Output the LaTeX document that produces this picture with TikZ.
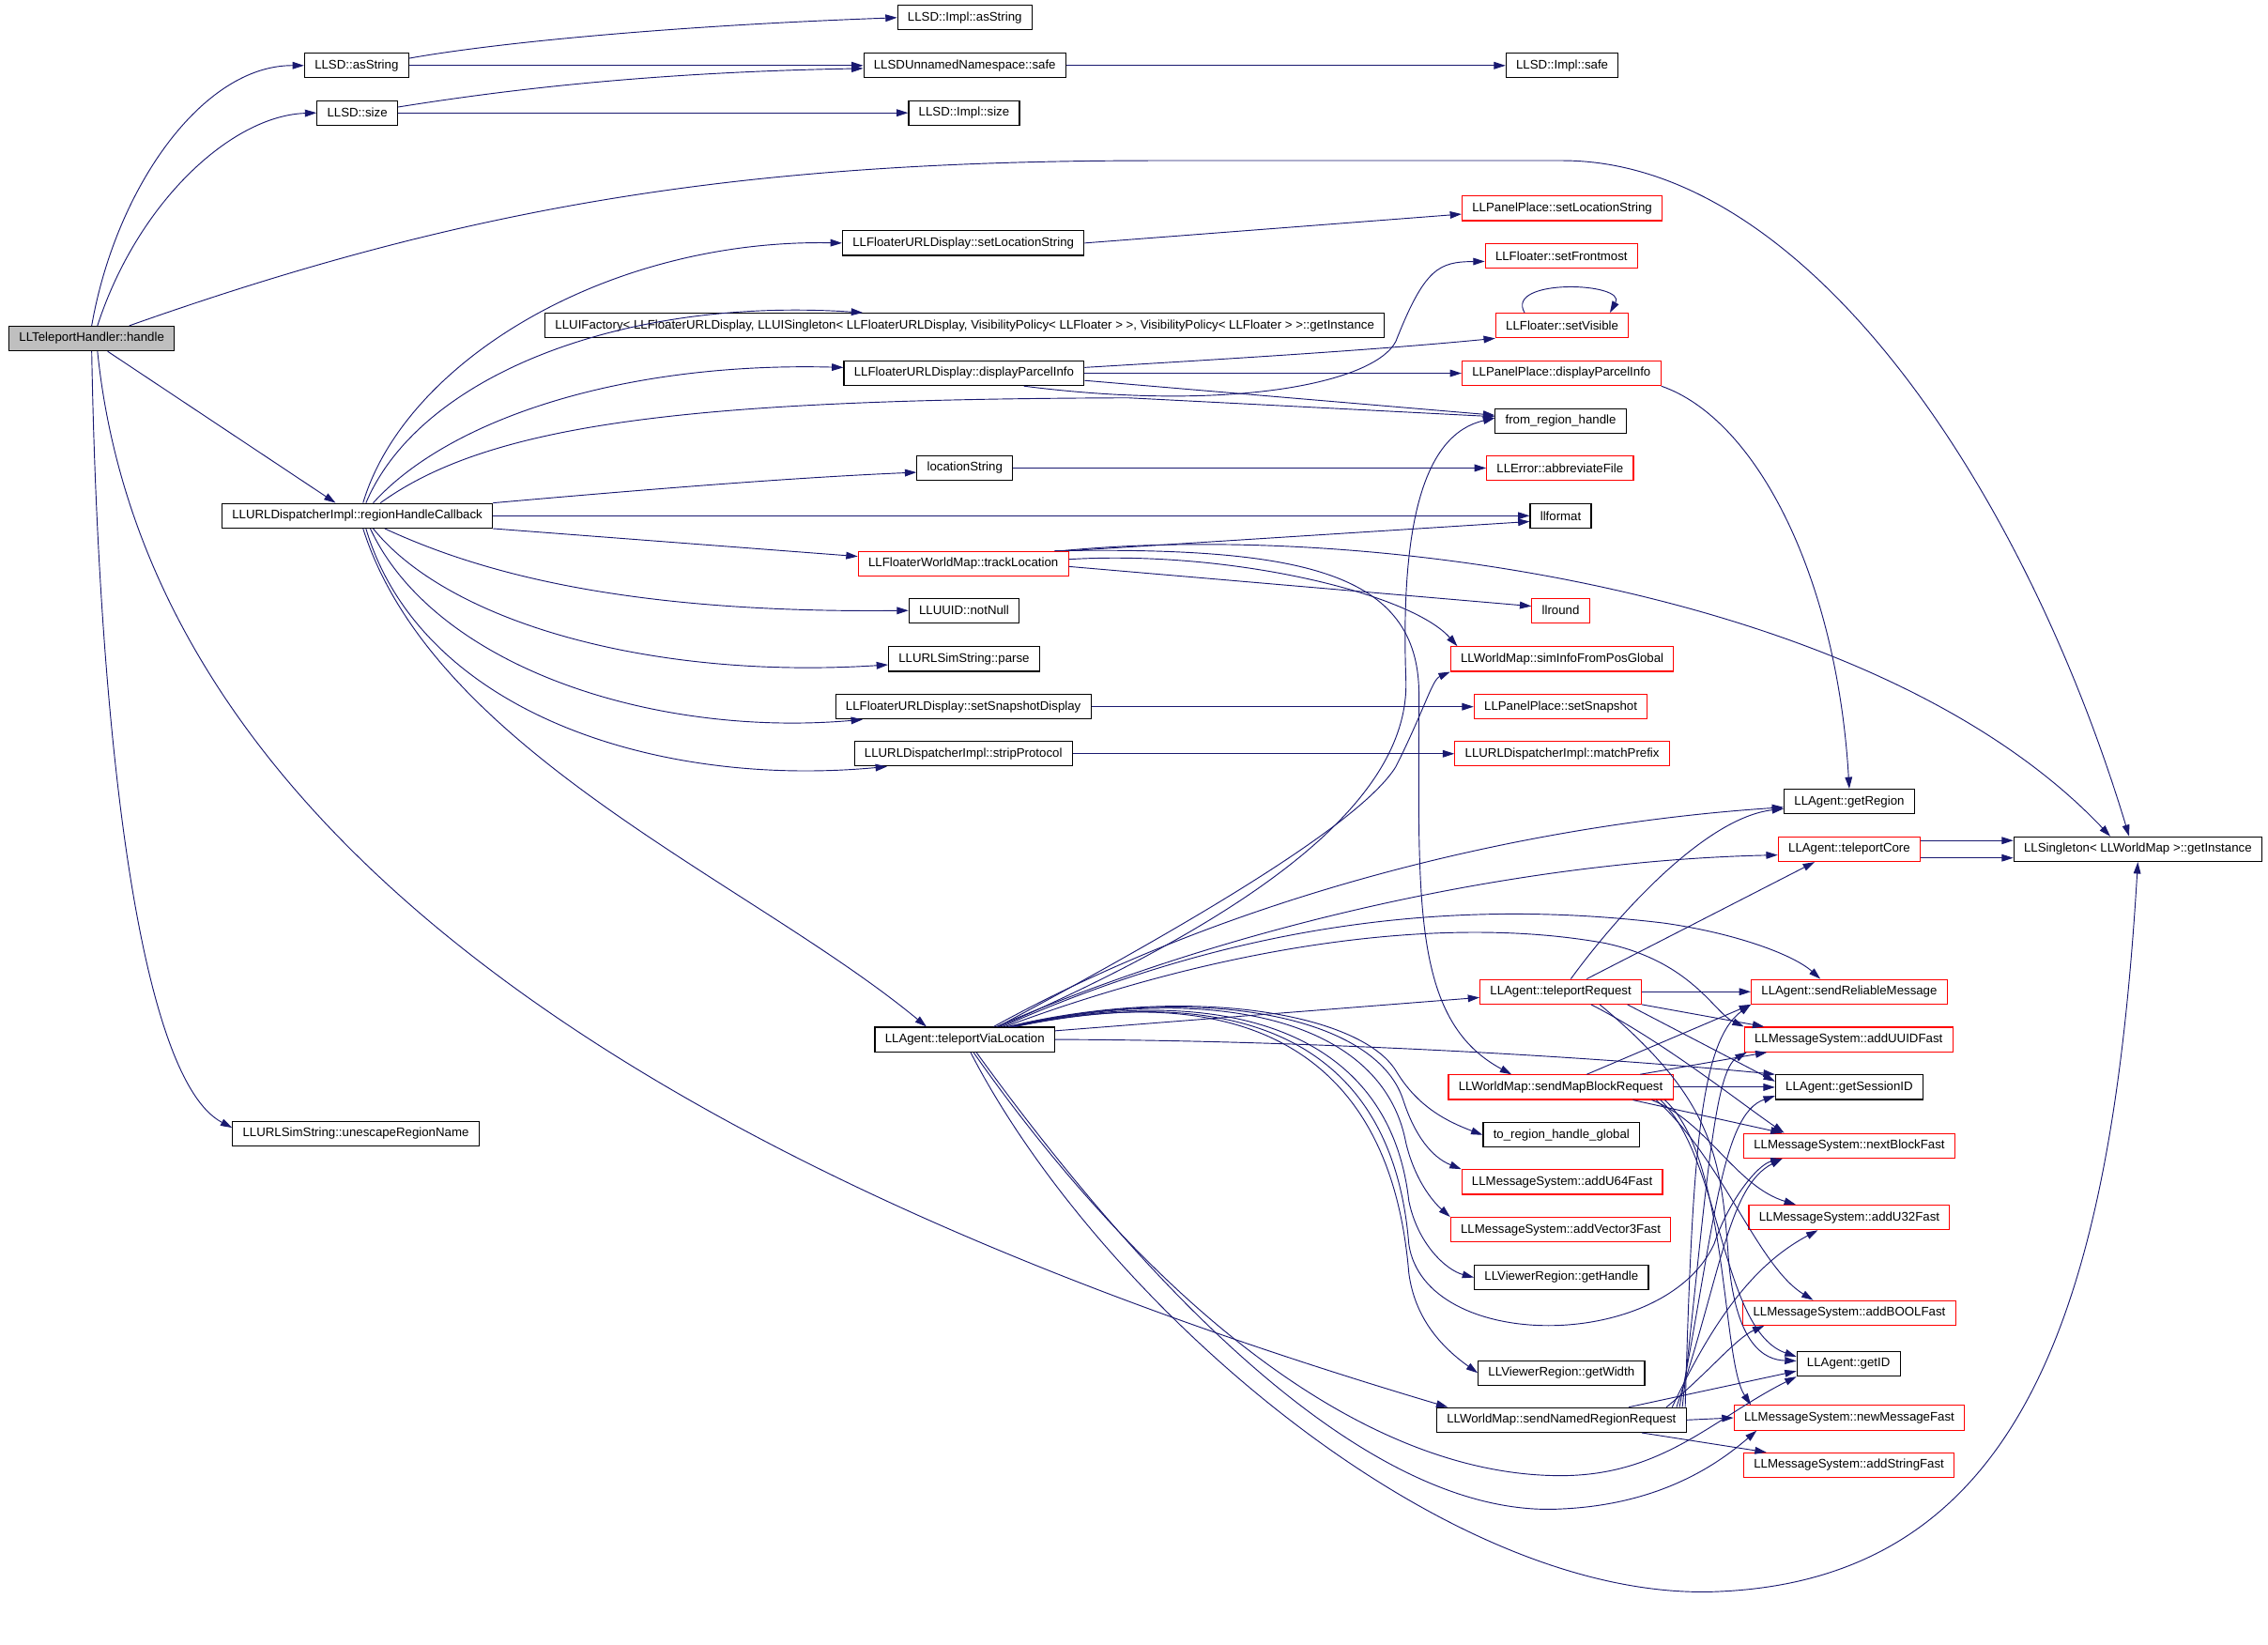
\documentclass[tikz,border=0pt]{standalone}
\usepackage{fontspec}
\setmainfont{Liberation Sans}
\usetikzlibrary{arrows.meta,calc}

\definecolor{edgeblue}{RGB}{25,25,112}
\definecolor{boxgray}{RGB}{191,191,191}

\tikzset{
  fn/.style={draw=black, line width=0.75pt, minimum height=17pt, inner xsep=7pt, inner ysep=0pt,
    font=\fontsize{8.6}{10}\selectfont},
  fnred/.style={fn, draw=red},
  fnroot/.style={fn, fill=boxgray},
  call/.style={draw=edgeblue, line width=0.6pt, -{Triangle[length=8pt,width=5pt]}},
}

\begin{document}
\begin{tikzpicture}[x=1pt,y=-1pt]

    \fill[white] (0,0) rectangle (1568,1137);
    \useasboundingbox (0,0) rectangle (1568,1137);

    % functions
    \node[fnroot] (handle) at (63.4,234) {LLTeleportHandler::handle};
    \node[fn] (asString) at (246.5,45.3) {LLSD::asString};
    \node[fn] (llsdSize) at (247,78) {LLSD::size};
    \node[fn] (implAsString) at (667,12.2) {LLSD::Impl::asString};
    \node[fn] (safe) at (667,45.3) {LLSDUnnamedNamespace::safe};
    \node[fn] (implSafe) at (1080,45.3) {LLSD::Impl::safe};
    \node[fn] (implSize) at (666.5,78) {LLSD::Impl::size};
    \node[fn] (setLocStr) at (666,168) {LLFloaterURLDisplay::setLocationString};
    \node[fn] (uiInst) at (667,225) {LLUIFactory< LLFloaterURLDisplay, LLUISingleton< LLFloaterURLDisplay, VisibilityPolicy< LLFloater > >, VisibilityPolicy< LLFloater > >::getInstance};
    \node[fn] (dispParcel) at (666.5,258) {LLFloaterURLDisplay::displayParcelInfo};
    \node[fnred] (ppSetLoc) at (1080,144) {LLPanelPlace::setLocationString};
    \node[fnred] (setFront) at (1079.5,176.7) {LLFloater::setFrontmost};
    \node[fnred] (setVis) at (1080,225) {LLFloater::setVisible};
    \node[fnred] (ppDisp) at (1079.5,258) {LLPanelPlace::displayParcelInfo};
    \node[fn] (fromRH) at (1079,291) {from\_region\_handle};
    \node[fn] (locStr) at (667,323.5) {locationString};
    \node[fnred] (abbrev) at (1078.5,323.5) {LLError::abbreviateFile};
    \node[fn] (regionCB) at (247,356.5) {LLURLDispatcherImpl::regionHandleCallback};
    \node[fn] (llformat) at (1079,356.5) {llformat};
    \node[fnred] (trackLoc) at (666,389.6) {LLFloaterWorldMap::trackLocation};
    \node[fn] (notNull) at (666.5,422) {LLUUID::notNull};
    \node[fn] (parse) at (666.5,455.5) {LLURLSimString::parse};
    \node[fn] (setSnapDisp) at (666,488.5) {LLFloaterURLDisplay::setSnapshotDisplay};
    \node[fn] (stripProt) at (666,521) {LLURLDispatcherImpl::stripProtocol};
    \node[fnred] (llround) at (1079,422) {llround};
    \node[fnred] (simInfo) at (1080,455.5) {LLWorldMap::simInfoFromPosGlobal};
    \node[fnred] (setSnap) at (1079,488.5) {LLPanelPlace::setSnapshot};
    \node[fnred] (matchPre) at (1080,521) {LLURLDispatcherImpl::matchPrefix};
    \node[fn] (getRegion) at (1278.5,554) {LLAgent::getRegion};
    \node[fnred] (tpCore) at (1278.5,587) {LLAgent::teleportCore};
    \node[fn] (sglInst) at (1478,587) {LLSingleton< LLWorldMap >::getInstance};
    \node[fnred] (tpReq) at (1079,685.5) {LLAgent::teleportRequest};
    \node[fnred] (sendRel) at (1278.5,685.5) {LLAgent::sendReliableMessage};
    \node[fn] (tpVia) at (667,718.5) {LLAgent::teleportViaLocation};
    \node[fnred] (addUUID) at (1278,718.5) {LLMessageSystem::addUUIDFast};
    \node[fnred] (mapBlock) at (1079,751.5) {LLWorldMap::sendMapBlockRequest};
    \node[fn] (sessID) at (1278.5,751.5) {LLAgent::getSessionID};
    \node[fn] (toRH) at (1079.5,784.5) {to\_region\_handle\_global};
    \node[fnred] (nextBlk) at (1278.5,792) {LLMessageSystem::nextBlockFast};
    \node[fnred] (addU64) at (1080,817) {LLMessageSystem::addU64Fast};
    \node[fnred] (addVec) at (1079,850) {LLMessageSystem::addVector3Fast};
    \node[fnred] (addU32) at (1278.5,841.5) {LLMessageSystem::addU32Fast};
    \node[fn] (getHandle) at (1079.5,883) {LLViewerRegion::getHandle};
    \node[fnred] (addBool) at (1278.5,907.5) {LLMessageSystem::addBOOLFast};
    \node[fn] (getID) at (1278,942.7) {LLAgent::getID};
    \node[fn] (getWidth) at (1079.5,949) {LLViewerRegion::getWidth};
    \node[fn] (namedReq) at (1079.5,981.5) {LLWorldMap::sendNamedRegionRequest};
    \node[fnred] (newMsg) at (1278.5,980) {LLMessageSystem::newMessageFast};
    \node[fnred] (addStr) at (1278.3,1012.7) {LLMessageSystem::addStringFast};
    \node[fn] (unescape) at (246,783.5) {LLURLSimString::unescapeRegionName};

    % LLTeleportHandler::handle
    \draw[call] (handle.north) .. controls (80,130) and (140,45) .. (asString.west);
    \draw[call] ($(handle.north)+(4,0)$) .. controls (95,140) and (160,80) .. (llsdSize.west);
    \draw[call] ($(handle.north)+(26,0)$) .. controls (330,140) and (520,111) .. (800,111) -- (1080,111)
        .. controls (1250,111) and (1400,340) .. ($(sglInst.north)+(-6,0)$);
    \draw[call] ($(handle.south)+(11,0)$) -- ($(regionCB.north)+(-15,0)$);
    \draw[call] ($(handle.south)+(4,0)$) .. controls (100,560) and (420,800) .. ($(namedReq.north west)+(8,0)$);
    \draw[call] (handle.south) .. controls (68,500) and (95,745) .. ($(unescape.west)+(0,-4)$);

    % LLSD
    \draw[call] ($(asString.east)+(0,-5)$) .. controls (340,30) and (460,18) .. (implAsString.west);
    \draw[call] (asString.east) -- (safe.west);
    \draw[call] ($(llsdSize.east)+(0,-4)$) .. controls (350,62) and (450,50) .. ($(safe.west)+(0,2)$);
    \draw[call] (llsdSize.east) -- (implSize.west);
    \draw[call] (safe.east) -- (implSafe.west);

    % LLURLDispatcherImpl::regionHandleCallback
    \draw[call] ($(regionCB.north)+(4,0)$) .. controls (280,250) and (420,165) .. (setLocStr.west);
    \draw[call] ($(regionCB.north)+(6,0)$) .. controls (290,260) and (430,205) .. ($(uiInst.north west)+(220,0)$);
    \draw[call] ($(regionCB.north)+(11,0)$) .. controls (310,290) and (430,250) .. ($(dispParcel.west)+(0,-4)$);
    \draw[call] ($(regionCB.north)+(16,0)$) .. controls (340,292) and (480,276) .. (780,275) -- ($(fromRH.west)+(0,-3)$);
    \draw[call] (regionCB.north east) .. controls (450,338) and (550,330) .. ($(locStr.west)+(0,3)$);
    \draw[call] (regionCB.east) -- (llformat.west);
    \draw[call] (regionCB.south east) -- ($(trackLoc.west)+(0,-5)$);
    \draw[call] ($(regionCB.south)+(19,0)$) .. controls (330,395) and (430,424) .. (notNull.west);
    \draw[call] ($(regionCB.south)+(11,0)$) .. controls (310,430) and (450,470) .. ($(parse.west)+(0,4)$);
    \draw[call] ($(regionCB.south)+(9,0)$) .. controls (300,460) and (450,510) .. ($(setSnapDisp.south west)+(19,0)$);
    \draw[call] ($(regionCB.south)+(6,0)$) .. controls (290,490) and (450,545) .. ($(stripProt.south west)+(23,0)$);
    \draw[call] ($(regionCB.south)+(4,0)$) .. controls (300,520) and (520,610) .. ($(tpVia.north west)+(36,0)$);

    % URL display and panel
    \draw[call] (setLocStr.east) -- ($(ppSetLoc.west)+(0,4)$);
    \draw[call] ($(dispParcel.east)+(0,-4)$) .. controls (850,248) and (950,242) .. (setVis.south west);
    \draw[call] (dispParcel.east) -- (ppDisp.west);
    \draw[call] ($(dispParcel.east)+(0,5)$) -- ($(fromRH.west)+(0,-4)$);
    \draw[call] ($(dispParcel.south east)+(-42,0)$) .. controls (850,285) and (950,265) .. (965,236)
        .. controls (985,185) and (995,181) .. ($(setFront.west)+(0,4)$);
    \draw[call] ($(setVis.north)+(-26,0)$) .. controls (1040,192) and (1125,195) .. ($(setVis.north)+(33,0)$);
    \draw[call] (ppDisp.south east) .. controls (1215,290) and (1270,400) .. (getRegion.north);
    \draw[call] (locStr.east) -- (abbrev.west);
    \draw[call] (setSnapDisp.east) -- (setSnap.west);
    \draw[call] (stripProt.east) -- (matchPre.west);

    % LLFloaterWorldMap::trackLocation
    \draw[call] (trackLoc.north east) -- ($(llformat.west)+(0,4)$);
    \draw[call] ($(trackLoc.east)+(0,2)$) -- ($(llround.west)+(0,-3)$);
    \draw[call] ($(trackLoc.north east)+(-5,0)$) .. controls (950,360) and (1300,410) .. ($(sglInst.north)+(-19,0)$);
    \draw[call] ($(trackLoc.east)+(0,-3)$) .. controls (850,380) and (975,410) .. ($(simInfo.north west)+(5,0)$);
    \draw[call] ($(trackLoc.north east)+(-10,0)$) .. controls (900,378) and (981,395) .. (981,480)
        .. controls (981,620) and (975,705) .. ($(mapBlock.north)+(-34,0)$);

    % LLAgent::teleportViaLocation
    \draw[call] ($(tpVia.north)+(20,0)$) .. controls (850,620) and (1050,570) .. ($(getRegion.west)+(0,4)$);
    \draw[call] ($(tpVia.north)+(22,0)$) .. controls (850,640) and (1050,595) .. ($(tpCore.west)+(0,4)$);
    \draw[call] ($(tpVia.north)+(23,0)$) .. controls (820,640) and (940,570) .. (965,530)
        .. controls (985,490) and (990,470) .. (simInfo.south west);
    \draw[call] ($(tpVia.north)+(24,0)$) .. controls (850,640) and (975,560) .. (972,470)
        .. controls (968,360) and (985,300) .. ($(fromRH.west)+(0,-2)$);
    \draw[call] ($(tpVia.north)+(26,0)$) .. controls (850,640) and (1000,620) .. (1150,638)
        .. controls (1200,645) and (1240,660) .. ($(sendRel.north)+(-20,0)$);
    \draw[call] ($(tpVia.north)+(28,0)$) .. controls (850,652) and (1000,632) .. (1110,652)
        .. controls (1170,665) and (1185,700) .. (addUUID.north west);
    \draw[call] ($(tpVia.east)+(0,-6)$) -- ($(tpReq.west)+(0,4)$);
    \draw[call] (tpVia.east) .. controls (900,719) and (1100,730) .. (sessID.north west);
    \draw[call] ($(tpVia.north)+(30,0)$) .. controls (820,680) and (940,700) .. (965,740)
        .. controls (980,765) and (1000,775) .. (toRH.west);
    \draw[call] ($(tpVia.north)+(31,0)$) .. controls (825,680) and (950,700) .. (970,760)
        .. controls (978,785) and (990,800) .. (addU64.north west);
    \draw[call] ($(tpVia.north)+(32,0)$) .. controls (830,680) and (955,700) .. (972,790)
        .. controls (978,815) and (990,830) .. (addVec.north west);
    \draw[call] ($(tpVia.north)+(33,0)$) .. controls (835,680) and (960,705) .. (974,830)
        .. controls (980,860) and (1000,878) .. (getHandle.west);
    \draw[call] ($(tpVia.north)+(34,0)$) .. controls (840,680) and (960,710) .. (974,880)
        .. controls (978,910) and (995,930) .. (getWidth.west);
    \draw[call] ($(tpVia.north)+(35,0)$) .. controls (845,680) and (962,710) .. (974,860)
        .. controls (985,935) and (1150,935) .. (1185,860)
        .. controls (1195,830) and (1215,805) .. ($(nextBlk.south west)+(27,0)$);
    \draw[call] ($(tpVia.south)+(6,0)$) .. controls (780,880) and (930,1020) .. (1079,1020)
        .. controls (1150,1020) and (1185,980) .. (getID.south west);
    \draw[call] ($(tpVia.south)+(8,0)$) .. controls (800,900) and (950,1050) .. (1079,1043)
        .. controls (1150,1040) and (1190,1010) .. ($(newMsg.south west)+(16,0)$);
    \draw[call] ($(tpVia.south)+(4,0)$) .. controls (760,900) and (1000,1110) .. (1190,1100)
        .. controls (1400,1090) and (1460,900) .. (sglInst.south);

    % LLAgent::teleportRequest
    \draw[call] ($(tpReq.north)+(7,0)$) .. controls (1120,630) and (1180,565) .. ($(getRegion.west)+(0,5)$);
    \draw[call] ($(tpReq.north)+(18,0)$) -- ($(tpCore.south)+(-24,0)$);
    \draw[call] (tpReq.east) -- (sendRel.west);
    \draw[call] (tpReq.south east) -- ($(addUUID.north west)+(14,0)$);
    \draw[call] ($(tpReq.south)+(21,0)$) .. controls (1150,720) and (1200,760) .. ($(nextBlk.north)+(-45,0)$);
    \draw[call] ($(tpReq.south east)+(-10,0)$) -- ($(sessID.west)+(0,-4)$);
    \draw[call] ($(tpReq.south)+(27,0)$) .. controls (1185,760) and (1190,800) .. (1195,870)
        .. controls (1200,930) and (1220,940) .. ($(getID.west)+(0,-2)$);

    % LLAgent::teleportCore
    \draw[call] ($(tpCore.east)+(0,-6)$) -- ($(sglInst.west)+(0,-6)$);
    \draw[call] ($(tpCore.east)+(0,6)$) -- ($(sglInst.west)+(0,6)$);

    % LLWorldMap::sendMapBlockRequest
    \draw[call] ($(mapBlock.north)+(18,0)$) -- (sendRel.south west);
    \draw[call] ($(mapBlock.north east)+(-23,0)$) -- ($(addUUID.south west)+(16,0)$);
    \draw[call] (mapBlock.east) -- (sessID.west);
    \draw[call] ($(mapBlock.south east)+(-28,0)$) -- ($(nextBlk.north west)+(27,0)$);
    \draw[call] ($(mapBlock.south east)+(-15,0)$) .. controls (1180,775) and (1200,820) .. ($(addU32.north)+(-37,0)$);
    \draw[call] ($(mapBlock.south east)+(-12,0)$) .. controls (1190,800) and (1215,875) .. ($(addBool.north)+(-25,0)$);
    \draw[call] ($(mapBlock.south east)+(-9,0)$) .. controls (1190,800) and (1190,920) .. ($(getID.west)+(0,-5)$);
    \draw[call] ($(mapBlock.south east)+(-6,0)$) .. controls (1195,800) and (1190,940) .. ($(newMsg.north west)+(12,0)$);

    % LLWorldMap::sendNamedRegionRequest
    \draw[call] (namedReq.east) -- (newMsg.west);
    \draw[call] ($(namedReq.south east)+(-31,0)$) -- ($(addStr.north west)+(16,0)$);
    \draw[call] ($(namedReq.north east)+(-40,0)$) -- ($(getID.west)+(0,5)$);
    \draw[call] ($(namedReq.north east)+(-14,0)$) .. controls (1180,950) and (1200,925) .. ($(addBool.south west)+(15,0)$);
    \draw[call] ($(namedReq.north east)+(-10,0)$) .. controls (1190,900) and (1220,870) .. ($(addU32.south west)+(48,0)$);
    \draw[call] ($(namedReq.north east)+(-7,0)$) .. controls (1190,880) and (1195,820) .. ($(nextBlk.south west)+(27,0)$);
    \draw[call] ($(namedReq.north east)+(-5,0)$) .. controls (1185,850) and (1190,770) .. ($(sessID.west)+(0,6)$);
    \draw[call] ($(namedReq.north east)+(-3,0)$) .. controls (1180,820) and (1185,740) .. ($(addUUID.south west)+(2,0)$);
    \draw[call] ($(namedReq.north east)+(-1,0)$) .. controls (1170,800) and (1175,720) .. (sendRel.south west);

\end{tikzpicture}
\end{document}
